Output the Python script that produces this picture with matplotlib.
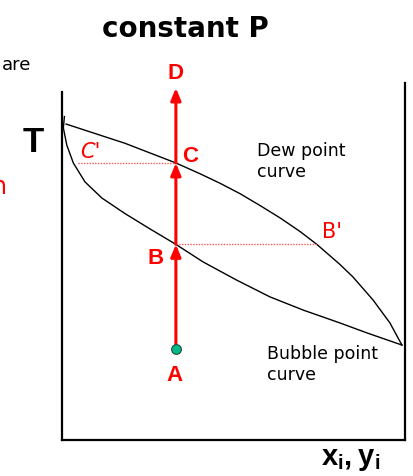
import matplotlib.pyplot as plt

# schematic T-x,y diagram at constant P (x: mole fraction, T: arbitrary units 0-100)
dew_x = [0.012, 0.184, 0.332, 0.402, 0.461, 0.519, 0.577, 0.636, 0.694, 0.743,
         0.810, 0.848, 0.907, 0.956, 0.991]
dew_T = [88.5, 83.1, 77.6, 74.6, 71.9, 69.0, 65.7, 62.2, 58.4, 54.8,
         49.2, 45.7, 39.2, 32.8, 26.6]

bub_x = [0.007, 0.004, 0.014, 0.033, 0.067, 0.116, 0.184, 0.257, 0.332, 0.411,
         0.509, 0.606, 0.703, 0.810, 0.889, 0.991]
bub_T = [90.6, 87.4, 82.6, 77.6, 72.3, 67.8, 63.4, 59.1, 54.8, 49.9,
         44.8, 40.1, 36.4, 32.8, 30.0, 26.6]

feed_x = 0.332
path_labels = ['A', 'B', 'C', 'D']
path_T = [25.5, 54.8, 77.6, 98.6]

# ends of the tie lines on the other curve
C_prime_x = 0.047
B_prime_x = 0.743

plt.rcParams['mathtext.fontset'] = 'custom'
plt.rcParams['mathtext.bf'] = 'Liberation Sans:bold'
plt.rcParams['mathtext.rm'] = 'Liberation Sans'

fig = plt.figure(figsize=(4.14, 4.76), dpi=100)
ax = fig.add_axes([62 / 414, 36 / 476, 343 / 414, 357 / 476])
ax.set_xlim(0, 1)
ax.set_ylim(0, 100)
ax.set_xticks([])
ax.set_yticks([])
ax.spines['top'].set_visible(False)
for s in ['left', 'right', 'bottom']:
    ax.spines[s].set_linewidth(1.6)
ax.spines['left'].set_bounds(0, 97.5)

ax.plot(dew_x, dew_T, color='black', lw=1.0, solid_joinstyle='round')
ax.plot(bub_x, bub_T, color='black', lw=1.0, solid_joinstyle='round')

red = '#ff0000'
# dotted tie lines
ax.plot([C_prime_x, feed_x], [path_T[2], path_T[2]], color='#ff5a5a', lw=1, ls=(0, (1, 1)))
ax.plot([feed_x, B_prime_x], [path_T[1], path_T[1]], color='#ff5a5a', lw=1, ls=(0, (1, 1)))

# heating path A -> B -> C -> D
for i in range(3):
    ax.annotate('', xy=(feed_x, path_T[i + 1]), xytext=(feed_x, path_T[i]),
                arrowprops=dict(arrowstyle='-|>,head_length=0.6,head_width=0.25',
                                color=red, lw=2.2, mutation_scale=12,
                                shrinkA=0, shrinkB=0),
                annotation_clip=False)
ax.plot([feed_x], [path_T[0]], 'o', color='#00b888', markeredgecolor='#1d4d3d',
        markeredgewidth=0.8, markersize=7, zorder=5)

offsets = {'A': (-0.7, -19.4), 'B': (-14.4, -10.1), 'C': (10.1, 4.3), 'D': (0, 10.1)}
for lab, t in zip(path_labels, path_T):
    ax.annotate(lab, xy=(feed_x, t), xytext=offsets[lab], textcoords='offset points',
                ha='center', va='center', color=red, fontsize=16,
                family='Liberation Sans', fontweight='bold', annotation_clip=False)

ax.annotate("C'", xy=(C_prime_x, path_T[2]), xytext=(8.6, 7.9), textcoords='offset points',
            ha='center', va='center', color=red, fontsize=15, style='italic')
ax.annotate("B'", xy=(B_prime_x, path_T[1]), xytext=(10.8, 8.6), textcoords='offset points',
            ha='center', va='center', color=red, fontsize=15)

fig.text(257 / 414, 1 - 142 / 476, 'Dew point\ncurve', ha='left', va='top', fontsize=12.5)
fig.text(267 / 414, 1 - 345 / 476, 'Bubble point\ncurve', ha='left', va='top', fontsize=12.5)

fig.text(185 / 414, 1 - 29 / 476, 'constant P', ha='center', va='center',
         fontsize=20, fontweight='bold')
fig.text(33 / 414, 1 - 143 / 476, 'T', ha='center', va='center', fontsize=25,
         family='Liberation Sans', fontweight='bold')
fig.text(351 / 414, 1 - 459 / 476, r'$\mathbf{x_i,y_i}$', ha='center', va='center', fontsize=21)

# cut-off fragments of neighbouring slide text (clipped at the edge in the original too)
fig.text(31 / 414, 1 - 65 / 476, 'are', ha='right', va='center', fontsize=13)
fig.text(7 / 414, 1 - 187 / 476, 'n', ha='right', va='center', fontsize=17, color=red)

fig.savefig('out.png', dpi=100)
